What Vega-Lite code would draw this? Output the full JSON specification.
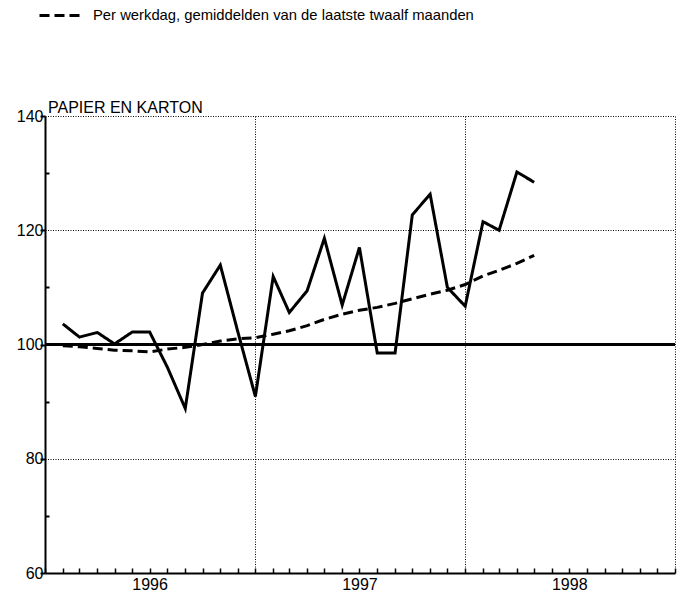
{
  "$schema": "https://vega.github.io/schema/vega-lite/v6.json",
  "width": 630,
  "height": 457,
  "autosize": {"type": "none"},
  "padding": {"left": 45, "top": 116, "right": 6, "bottom": 25},
  "background": "white",
  "title": {"text": "PAPIER EN KARTON", "anchor": "start", "frame": "group", "fontSize": 16, "font": "Liberation Sans", "fontWeight": "normal", "color": "black", "offset": -123, "dx": 3},
  "config": {
    "view": {"stroke": null},
    "axis": {"labelFont": "Liberation Sans", "labelColor": "black", "domainColor": "black", "tickColor": "black", "title": null}
  },
  "data": {
    "values": [
      {"date": "1996-02-01", "reeks": "Per werkdag", "value": 103.6},
      {"date": "1996-03-01", "reeks": "Per werkdag", "value": 101.3},
      {"date": "1996-04-01", "reeks": "Per werkdag", "value": 102.1},
      {"date": "1996-05-01", "reeks": "Per werkdag", "value": 100.1},
      {"date": "1996-06-01", "reeks": "Per werkdag", "value": 102.2},
      {"date": "1996-07-01", "reeks": "Per werkdag", "value": 102.2},
      {"date": "1996-08-01", "reeks": "Per werkdag", "value": 96.0},
      {"date": "1996-09-01", "reeks": "Per werkdag", "value": 88.8},
      {"date": "1996-10-01", "reeks": "Per werkdag", "value": 109.0},
      {"date": "1996-11-01", "reeks": "Per werkdag", "value": 113.9},
      {"date": "1996-12-01", "reeks": "Per werkdag", "value": 102.4},
      {"date": "1997-01-01", "reeks": "Per werkdag", "value": 90.9},
      {"date": "1997-02-01", "reeks": "Per werkdag", "value": 111.9},
      {"date": "1997-03-01", "reeks": "Per werkdag", "value": 105.6},
      {"date": "1997-04-01", "reeks": "Per werkdag", "value": 109.4},
      {"date": "1997-05-01", "reeks": "Per werkdag", "value": 118.6},
      {"date": "1997-06-01", "reeks": "Per werkdag", "value": 106.9},
      {"date": "1997-07-01", "reeks": "Per werkdag", "value": 117.0},
      {"date": "1997-08-01", "reeks": "Per werkdag", "value": 98.5},
      {"date": "1997-09-01", "reeks": "Per werkdag", "value": 98.5},
      {"date": "1997-10-01", "reeks": "Per werkdag", "value": 122.7},
      {"date": "1997-11-01", "reeks": "Per werkdag", "value": 126.3},
      {"date": "1997-12-01", "reeks": "Per werkdag", "value": 110.0},
      {"date": "1998-01-01", "reeks": "Per werkdag", "value": 106.7},
      {"date": "1998-02-01", "reeks": "Per werkdag", "value": 121.5},
      {"date": "1998-03-01", "reeks": "Per werkdag", "value": 120.0},
      {"date": "1998-04-01", "reeks": "Per werkdag", "value": 130.2},
      {"date": "1998-05-01", "reeks": "Per werkdag", "value": 128.4},
      {"date": "1996-02-01", "reeks": "Per werkdag, gemiddelden van de laatste twaalf maanden", "value": 99.8},
      {"date": "1996-03-01", "reeks": "Per werkdag, gemiddelden van de laatste twaalf maanden", "value": 99.6},
      {"date": "1996-04-01", "reeks": "Per werkdag, gemiddelden van de laatste twaalf maanden", "value": 99.3},
      {"date": "1996-05-01", "reeks": "Per werkdag, gemiddelden van de laatste twaalf maanden", "value": 99.0},
      {"date": "1996-06-01", "reeks": "Per werkdag, gemiddelden van de laatste twaalf maanden", "value": 98.9},
      {"date": "1996-07-01", "reeks": "Per werkdag, gemiddelden van de laatste twaalf maanden", "value": 98.7},
      {"date": "1996-08-01", "reeks": "Per werkdag, gemiddelden van de laatste twaalf maanden", "value": 99.2},
      {"date": "1996-09-01", "reeks": "Per werkdag, gemiddelden van de laatste twaalf maanden", "value": 99.5},
      {"date": "1996-10-01", "reeks": "Per werkdag, gemiddelden van de laatste twaalf maanden", "value": 100.0},
      {"date": "1996-11-01", "reeks": "Per werkdag, gemiddelden van de laatste twaalf maanden", "value": 100.6},
      {"date": "1996-12-01", "reeks": "Per werkdag, gemiddelden van de laatste twaalf maanden", "value": 101.0},
      {"date": "1997-01-01", "reeks": "Per werkdag, gemiddelden van de laatste twaalf maanden", "value": 101.2},
      {"date": "1997-02-01", "reeks": "Per werkdag, gemiddelden van de laatste twaalf maanden", "value": 101.8},
      {"date": "1997-03-01", "reeks": "Per werkdag, gemiddelden van de laatste twaalf maanden", "value": 102.4},
      {"date": "1997-04-01", "reeks": "Per werkdag, gemiddelden van de laatste twaalf maanden", "value": 103.3},
      {"date": "1997-05-01", "reeks": "Per werkdag, gemiddelden van de laatste twaalf maanden", "value": 104.4},
      {"date": "1997-06-01", "reeks": "Per werkdag, gemiddelden van de laatste twaalf maanden", "value": 105.3},
      {"date": "1997-07-01", "reeks": "Per werkdag, gemiddelden van de laatste twaalf maanden", "value": 106.0},
      {"date": "1997-08-01", "reeks": "Per werkdag, gemiddelden van de laatste twaalf maanden", "value": 106.5},
      {"date": "1997-09-01", "reeks": "Per werkdag, gemiddelden van de laatste twaalf maanden", "value": 107.2},
      {"date": "1997-10-01", "reeks": "Per werkdag, gemiddelden van de laatste twaalf maanden", "value": 108.0},
      {"date": "1997-11-01", "reeks": "Per werkdag, gemiddelden van de laatste twaalf maanden", "value": 108.8},
      {"date": "1997-12-01", "reeks": "Per werkdag, gemiddelden van de laatste twaalf maanden", "value": 109.5},
      {"date": "1998-01-01", "reeks": "Per werkdag, gemiddelden van de laatste twaalf maanden", "value": 110.5},
      {"date": "1998-02-01", "reeks": "Per werkdag, gemiddelden van de laatste twaalf maanden", "value": 112.0},
      {"date": "1998-03-01", "reeks": "Per werkdag, gemiddelden van de laatste twaalf maanden", "value": 113.0},
      {"date": "1998-04-01", "reeks": "Per werkdag, gemiddelden van de laatste twaalf maanden", "value": 114.2},
      {"date": "1998-05-01", "reeks": "Per werkdag, gemiddelden van de laatste twaalf maanden", "value": 115.6}
    ]
  },
  "layer": [
    {
      "mark": {"type": "line", "strokeWidth": 3, "color": "black", "strokeJoin": "miter"},
      "encoding": {
        "x": {
          "field": "date", "type": "temporal",
          "scale": {"type": "utc", "domain": [{"year": 1996, "month": 1, "date": 1, "utc": true}, {"year": 1999, "month": 1, "date": 1, "utc": true}]},
          "axis": {
            "tickCount": {"interval": "month", "step": 1},
            "tickSize": -5, "tickWidth": 1.5,
            "labelPadding": 8,
            "labelExpr": "utcmonth(datum.value) == 6 ? utcyear(datum.value) : ''",
            "labelFontSize": 16, "labelAngle": 0, "labelFlush": false, "labelOverlap": false,
            "labelBaseline": "top",
            "domainWidth": 2,
            "grid": true, "gridColor": "black", "gridDash": [1, 1.5], "gridWidth": 1,
            "gridOpacity": {"condition": {"test": "utcmonth(datum.value) == 0 && utcyear(datum.value) > 1996", "value": 1}, "value": 0}
          }
        },
        "y": {
          "field": "value", "type": "quantitative",
          "scale": {"domain": [60, 140], "nice": false, "zero": false},
          "axis": {
            "values": [60, 70, 80, 90, 100, 110, 120, 130, 140],
            "tickSize": {"condition": {"test": "datum.value % 20 == 0", "value": 5}, "value": -4},
            "tickWidth": 2,
            "labelPadding": -3,
            "labelExpr": "datum.value % 20 == 0 ? datum.label : ''",
            "labelFontSize": 16,
            "domainWidth": 2,
            "grid": true, "gridColor": "black", "gridDash": [1, 1.5], "gridWidth": 1,
            "gridOpacity": {"condition": {"test": "datum.value % 20 == 0 && datum.value != 60", "value": 1}, "value": 0}
          }
        },
        "strokeDash": {
          "field": "reeks", "type": "nominal",
          "scale": {"domain": ["Per werkdag", "Per werkdag, gemiddelden van de laatste twaalf maanden"], "range": [[1, 0], [10, 5]]},
          "legend": {
            "values": ["Per werkdag, gemiddelden van de laatste twaalf maanden"],
            "orient": "none", "legendX": -7, "legendY": -123,
            "title": null, "padding": 0,
            "symbolType": "stroke", "symbolSize": 1764, "symbolStrokeWidth": 3, "symbolStrokeColor": "black",
            "labelFont": "Liberation Sans", "labelFontSize": 14.8, "labelColor": "black", "labelOffset": 10, "labelLimit": 0
          }
        }
      }
    },
    {
      "mark": {"type": "rule", "color": "black", "strokeWidth": 2},
      "encoding": {"y": {"datum": 100}}
    }
  ]
}
